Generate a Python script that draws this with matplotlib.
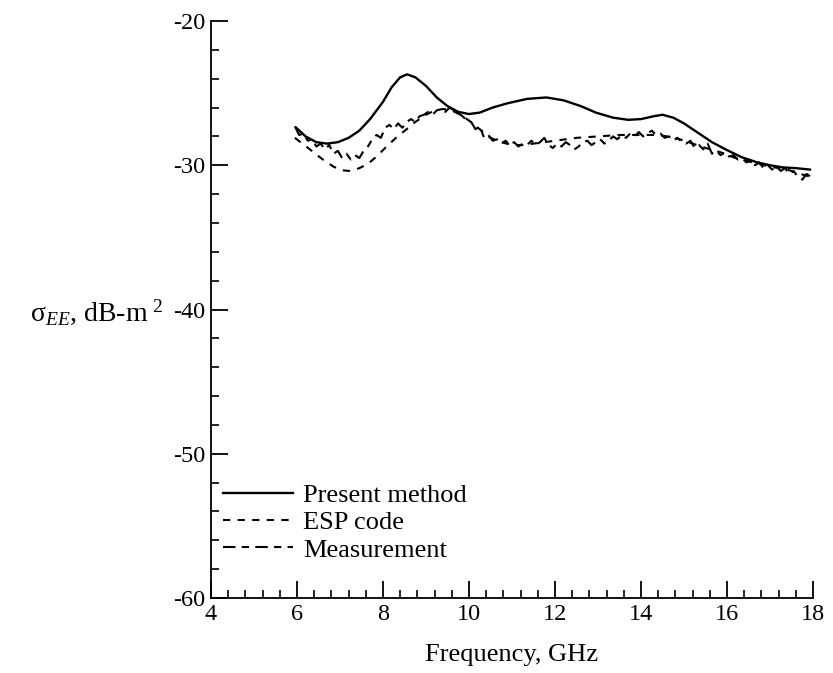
import matplotlib
matplotlib.use("Agg")
import matplotlib.pyplot as plt
from matplotlib.ticker import MultipleLocator

plt.rcParams["font.family"] = ["Liberation Serif", "DejaVu Serif"]
plt.rcParams["mathtext.fontset"] = "custom"
plt.rcParams["mathtext.rm"] = "Liberation Serif"
plt.rcParams["mathtext.it"] = "Liberation Serif:italic"

# Present method (computed RCS)
present_f = [5.98, 6.2, 6.45, 6.7, 6.95, 7.2, 7.45, 7.7, 8.0, 8.2, 8.4, 8.56, 8.75,
             9.0, 9.25, 9.5, 9.75, 10.0, 10.25, 10.55, 10.9, 11.35, 11.8, 12.2, 12.6,
             12.95, 13.35, 13.7, 14.0, 14.3, 14.5, 14.75, 15.0, 15.3, 15.65, 16.0,
             16.35, 16.7, 17.0, 17.3, 17.6, 17.93]
present_db = [-27.4, -28.0, -28.4, -28.5, -28.4, -28.1, -27.6, -26.8, -25.6, -24.6,
              -23.9, -23.7, -23.9, -24.5, -25.3, -25.9, -26.3, -26.45, -26.35, -26.0,
              -25.7, -25.4, -25.3, -25.5, -25.9, -26.35, -26.7, -26.85, -26.8, -26.6,
              -26.5, -26.7, -27.1, -27.7, -28.4, -28.95, -29.45, -29.8, -30.0, -30.15,
              -30.2, -30.3]

# ESP code
esp_f = [5.95, 6.3, 6.6, 6.85, 7.05, 7.25, 7.45, 7.65, 7.85, 8.05, 8.3, 8.55, 8.75,
         9.0, 9.2, 9.4, 9.6, 9.8, 10.0, 10.25, 10.5, 10.75, 11.0, 11.25, 11.5, 12.0,
         12.5, 13.0, 13.5, 14.0, 14.4, 14.8, 15.1, 15.5, 15.85, 16.2, 16.6, 17.0,
         17.4, 17.7, 17.95]
esp_db = [-28.1, -28.9, -29.6, -30.1, -30.35, -30.4, -30.2, -29.9, -29.4, -28.8,
          -28.1, -27.5, -27.0, -26.5, -26.2, -26.1, -26.2, -26.5, -26.9, -27.5,
          -28.1, -28.4, -28.6, -28.6, -28.5, -28.3, -28.1, -28.0, -27.9, -27.9,
          -27.9, -28.1, -28.4, -28.8, -29.1, -29.5, -29.8, -30.1, -30.3, -30.6, -30.8]

# Measurement
meas_f = [5.95, 6.05, 6.15, 6.25, 6.35, 6.45, 6.55, 6.65, 6.75, 6.85, 6.95, 7.05,
          7.15, 7.25, 7.35, 7.45, 7.55, 7.65, 7.75, 7.85, 7.95, 8.05, 8.15, 8.25,
          8.35, 8.45, 8.55, 8.65, 8.75, 8.85, 8.95, 9.05, 9.15, 9.25, 9.35, 9.45,
          9.55, 9.65, 9.75, 9.85, 9.95, 10.05, 10.15, 10.25, 10.35, 10.45, 10.55,
          10.65, 10.75, 10.85, 10.95, 11.05, 11.15, 11.25, 11.35, 11.45, 11.55,
          11.65, 11.75, 11.85, 11.95, 12.05, 12.15, 12.25, 12.35, 12.45, 12.55,
          12.65, 12.75, 12.85, 12.95, 13.05, 13.15, 13.25, 13.35, 13.45, 13.55,
          13.65, 13.75, 13.85, 13.95, 14.05, 14.15, 14.25, 14.35, 14.45, 14.55,
          14.65, 14.75, 14.85, 14.95, 15.05, 15.15, 15.25, 15.35, 15.45, 15.55,
          15.65, 15.75, 15.85, 15.95, 16.05, 16.15, 16.25, 16.35, 16.45, 16.55,
          16.65, 16.75, 16.85, 16.95, 17.05, 17.15, 17.25, 17.35, 17.45, 17.55,
          17.65, 17.75, 17.85, 17.95]
meas_db = [-27.3, -27.9, -27.8, -28.3, -28.2, -28.7, -28.5, -28.9, -28.6, -29.2,
           -29.0, -29.5, -29.2, -29.6, -29.3, -29.5, -29.0, -28.7, -28.2, -27.9,
           -28.1, -27.4, -27.2, -27.5, -27.1, -27.4, -27.0, -26.8, -27.0, -26.6,
           -26.5, -26.3, -26.5, -26.2, -26.1, -26.3, -26.0, -26.2, -26.4, -26.6,
           -26.9, -27.0, -27.5, -27.3, -28.1, -27.9, -28.3, -28.2, -28.5, -28.3,
           -28.6, -28.4, -28.7, -28.5, -28.6, -28.3, -28.6, -28.4, -28.1, -28.6,
           -28.8, -28.5, -28.7, -28.4, -28.6, -28.9, -28.7, -28.4, -28.3, -28.6,
           -28.4, -28.2, -28.5, -28.3, -28.0, -28.2, -27.9, -28.1, -27.8, -28.0,
           -27.7, -28.0, -27.8, -27.6, -27.9, -27.8, -28.1, -28.0, -28.3, -28.1,
           -28.4, -28.5, -28.3, -28.8, -28.6, -28.9, -28.5, -29.2, -29.0, -29.3,
           -29.1, -29.4, -29.3, -29.6, -29.5, -29.8, -29.7, -30.0, -29.8, -30.2,
           -30.0, -30.3, -30.1, -30.4, -30.2, -30.6, -30.4, -30.8, -31.0, -30.6,
           -30.8]

series_labels = ["Present method", "ESP code", "Measurement"]
x_ticks = [4, 6, 8, 10, 12, 14, 16, 18]
y_ticks = [-60, -50, -40, -30, -20]

fig = plt.figure(figsize=(8.33, 6.73), dpi=100)
ax = fig.add_axes([0.2533, 0.1114, 0.7227, 0.8574])

ax.plot(present_f, present_db, color="black", lw=1.7, linestyle="-",
        label=series_labels[0])
ax.plot(esp_f, esp_db, color="black", lw=1.5, linestyle=(0, (3.5, 3.5)),
        label=series_labels[1])
ax.plot(meas_f, meas_db, color="black", lw=1.5, linestyle=(0, (6, 3, 3.5, 3)),
        label=series_labels[2])

ax.set_xlim(4, 18)
ax.set_ylim(-60, -20)
ax.set_xticks(x_ticks)
ax.set_yticks(y_ticks)
ax.xaxis.set_minor_locator(MultipleLocator(0.4))
ax.yaxis.set_minor_locator(MultipleLocator(2))
ax.set_xticklabels([str(t) for t in x_ticks])
ax.set_yticklabels([str(t) for t in y_ticks])

for s in ("top", "right"):
    ax.spines[s].set_visible(False)
for s in ("left", "bottom"):
    ax.spines[s].set_linewidth(1.3)

ax.tick_params(which="major", direction="in", length=12, width=1.3,
               labelsize=17.5, pad=4)
ax.tick_params(which="minor", direction="in", length=6, width=1.2)

ax.set_xlabel("Frequency, GHz", fontsize=19, labelpad=14)
fig.text(30 / 833, 1 - 312 / 673, r"$\mathrm{σ}_{EE}$, dB-m$\;^{2}$",
         fontsize=20, ha="left", va="center")

ax.legend(loc="upper left", bbox_to_anchor=(0.02, 0.198), frameon=False,
          fontsize=19, handlelength=2.65, handletextpad=0.38,
          labelspacing=0.14, borderaxespad=0.0, borderpad=0.0)

fig.savefig("out.png", dpi=100, facecolor="white")
